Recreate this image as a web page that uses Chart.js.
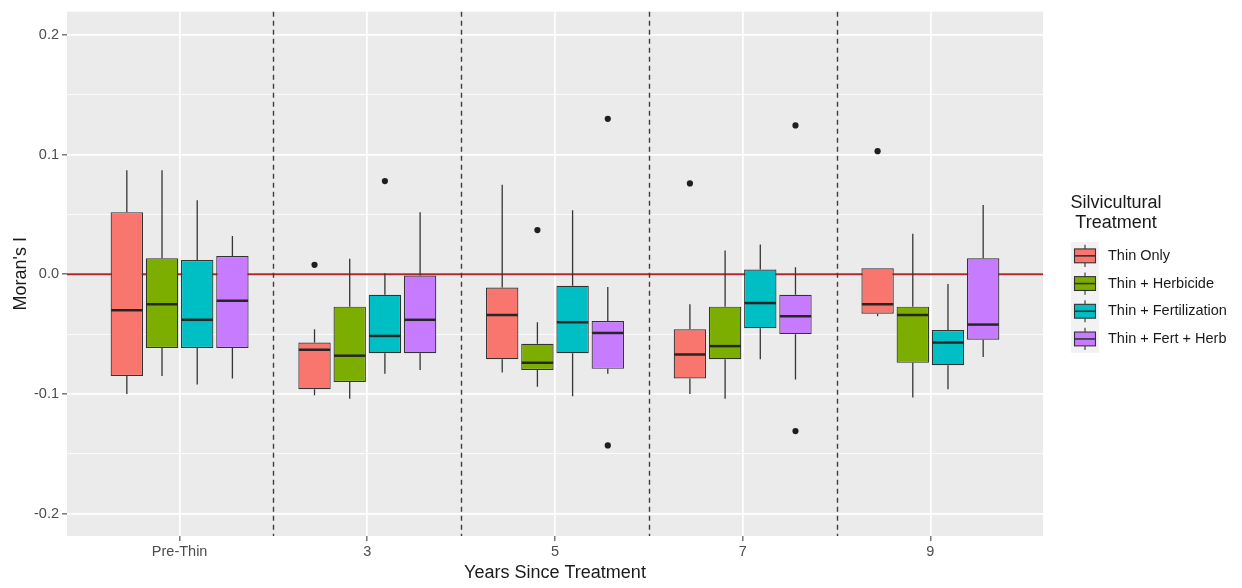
<!DOCTYPE html>
<html>
<head>
<meta charset="utf-8">
<script src="https://cdn.jsdelivr.net/npm/chart.js@4.4.1/dist/chart.umd.min.js"></script>
<style>
  html, body { margin: 0; padding: 0; background: #ffffff; }
  #wrap { width: 1242px; height: 588px; position: relative; }
</style>
</head>
<body>
<div id="wrap"><canvas id="c" width="1242" height="588"></canvas></div>
<script>
// ---------- data ----------
const categories = ['Pre-Thin', '3', '5', '7', '9'];
const treatments = ['Thin Only', 'Thin + Herbicide', 'Thin + Fertilization', 'Thin + Fert + Herb'];
const fillColors = ['#F8766D', '#7CAE00', '#00BFC4', '#C77CFF'];

// each entry: [lower whisker, Q1, median, Q3, upper whisker] per category
const thinOnly = [
  [-0.100, -0.085, -0.030,  0.052,  0.087],
  [-0.101, -0.096, -0.063, -0.057, -0.046],
  [-0.082, -0.071, -0.034, -0.011,  0.075],
  [-0.100, -0.087, -0.067, -0.046, -0.025],
  [-0.035, -0.033, -0.025,  0.005,  0.005]
];
const thinHerbicide = [
  [-0.085, -0.0615, -0.025,  0.0135,  0.087],
  [-0.104, -0.090,  -0.068, -0.027,   0.013],
  [-0.094, -0.080,  -0.074, -0.058,  -0.040],
  [-0.104, -0.071,  -0.060, -0.027,   0.020],
  [-0.103, -0.074,  -0.034, -0.027,   0.034]
];
const thinFertilization = [
  [-0.092, -0.0615, -0.038,   0.012,   0.062],
  [-0.083, -0.066,  -0.0515, -0.017,   0.001],
  [-0.102, -0.066,  -0.040,  -0.0096,  0.0535],
  [-0.071, -0.045,  -0.024,   0.004,   0.025],
  [-0.096, -0.076,  -0.057,  -0.0465, -0.008]
];
const thinFertHerb = [
  [-0.087, -0.0615, -0.022,  0.0154,  0.032],
  [-0.080, -0.066,  -0.038, -0.001,   0.052],
  [-0.083, -0.079,  -0.049, -0.039,  -0.0105],
  [-0.088, -0.050,  -0.035, -0.017,   0.006],
  [-0.069, -0.0546, -0.042,  0.0135,  0.058]
];

// outliers per category
const thinOnlyOutliers          = [[], [0.008], [], [0.076], [0.103]];
const thinHerbicideOutliers     = [[], [], [0.037], [], []];
const thinFertilizationOutliers = [[], [0.078], [], [], []];
const thinFertHerbOutliers      = [[], [], [0.130, -0.143], [0.1245, -0.131], []];

const yTicks      = [-0.2, -0.15, -0.1, -0.05, 0, 0.05, 0.1, 0.15, 0.2];
const yTickLabels = ['-0.2', '', '-0.1', '', '0.0', '', '0.1', '', '0.2'];
const separators  = [0.5, 1.5, 2.5, 3.5];
const referenceLine = 0;
const legendTitle = ['Silvicultural', 'Treatment'];

const seriesStats = [thinOnly, thinHerbicide, thinFertilization, thinFertHerb];
const seriesOutliers = [thinOnlyOutliers, thinHerbicideOutliers, thinFertilizationOutliers, thinFertHerbOutliers];

// ---------- chart ----------
const FONT = '"Liberation Sans", Arial, Helvetica, sans-serif';
Chart.defaults.font.family = FONT;

const boxExtras = {
  id: 'boxExtras',
  beforeDraw(chart) {
    const { ctx, chartArea: a } = chart;
    ctx.save();
    ctx.fillStyle = '#ebebeb';
    ctx.fillRect(a.left, a.top, a.right - a.left, a.bottom - a.top);
    ctx.restore();
  },
  beforeDatasetsDraw(chart) {
    const { ctx, chartArea: a, scales: { x, y } } = chart;
    ctx.save();
    // zero reference line
    const y0 = y.getPixelForValue(referenceLine);
    ctx.strokeStyle = '#b3262a';
    ctx.lineWidth = 2;
    ctx.beginPath(); ctx.moveTo(a.left, y0); ctx.lineTo(a.right, y0); ctx.stroke();
    // dashed separators
    ctx.strokeStyle = '#3d3d3d';
    ctx.lineWidth = 1.4;
    ctx.setLineDash([5, 4]);
    separators.forEach(v => {
      const px = Math.round(x.getPixelForValue(v)) + 0.5;
      ctx.beginPath(); ctx.moveTo(px, a.top); ctx.lineTo(px, a.bottom); ctx.stroke();
    });
    ctx.setLineDash([]);
    // whiskers
    ctx.strokeStyle = '#363636';
    ctx.lineWidth = 1.3;
    chart.data.datasets.forEach((ds, di) => {
      const meta = chart.getDatasetMeta(di);
      meta.data.forEach((bar, i) => {
        const st = seriesStats[di][i];
        const bx = bar.x;
        ctx.beginPath();
        ctx.moveTo(bx, y.getPixelForValue(st[3])); ctx.lineTo(bx, y.getPixelForValue(st[4]));
        ctx.moveTo(bx, y.getPixelForValue(st[1])); ctx.lineTo(bx, y.getPixelForValue(st[0]));
        ctx.stroke();
      });
    });
    ctx.restore();
  },
  afterDatasetsDraw(chart) {
    const { ctx, scales: { y } } = chart;
    ctx.save();
    chart.data.datasets.forEach((ds, di) => {
      const meta = chart.getDatasetMeta(di);
      meta.data.forEach((bar, i) => {
        const st = seriesStats[di][i];
        const half = bar.width / 2;
        const my = y.getPixelForValue(st[2]);
        ctx.strokeStyle = '#262626';
        ctx.lineWidth = 2.5;
        ctx.beginPath(); ctx.moveTo(bar.x - half + 0.5, my); ctx.lineTo(bar.x + half - 0.5, my); ctx.stroke();
        ctx.fillStyle = '#1f1f1f';
        seriesOutliers[di][i].forEach(v => {
          ctx.beginPath();
          ctx.arc(bar.x, y.getPixelForValue(v), 3.1, 0, Math.PI * 2);
          ctx.fill();
        });
      });
    });
    ctx.restore();
  },
  afterDraw(chart) {
    const ctx = chart.ctx;
    const keyX = 1071, keyW = 28, keyH = 27.7, keyTop = 242;
    ctx.save();
    ctx.fillStyle = '#1a1a1a';
    ctx.font = '18px ' + FONT;
    ctx.textAlign = 'center';
    ctx.textBaseline = 'middle';
    legendTitle.forEach((t, k) => ctx.fillText(t, 1116, 203 + k * 20));
    ctx.fillStyle = '#f2f2f2';
    ctx.fillRect(keyX, keyTop, keyW, keyH * treatments.length);
    treatments.forEach((name, s) => {
      const top = keyTop + s * keyH;
      const cy = top + keyH / 2;
      const cx = keyX + keyW / 2;
      const bw = keyW * 0.75, bh = keyH * 0.5;
      ctx.strokeStyle = '#333333';
      ctx.lineWidth = 1.1;
      ctx.beginPath();
      ctx.moveTo(cx, top + keyH * 0.1); ctx.lineTo(cx, top + keyH * 0.25);
      ctx.moveTo(cx, top + keyH * 0.75); ctx.lineTo(cx, top + keyH * 0.9);
      ctx.stroke();
      ctx.fillStyle = fillColors[s];
      ctx.fillRect(cx - bw / 2, cy - bh / 2, bw, bh);
      ctx.strokeRect(cx - bw / 2, cy - bh / 2, bw, bh);
      ctx.lineWidth = 1.6;
      ctx.beginPath(); ctx.moveTo(cx - bw / 2, cy); ctx.lineTo(cx + bw / 2, cy); ctx.stroke();
      ctx.fillStyle = '#1a1a1a';
      ctx.font = '14.5px ' + FONT;
      ctx.textAlign = 'left';
      ctx.fillText(name, 1108, cy);
    });
    ctx.restore();
  }
};

new Chart(document.getElementById('c'), {
  type: 'bar',
  data: {
    datasets: treatments.map((name, s) => ({
      label: name,
      data: seriesStats[s].map((st, i) => ({ x: i, y: [st[1], st[3]] })),
      backgroundColor: fillColors[s],
      borderColor: '#333333',
      borderWidth: 1.2,
      borderSkipped: false,
      categoryPercentage: 0.75,
      barPercentage: 0.92
    }))
  },
  options: {
    responsive: false,
    animation: false,
    events: [],
    layout: { padding: { left: 0, top: 10, right: 199, bottom: 0 } },
    plugins: { legend: { display: false }, tooltip: { enabled: false } },
    scales: {
      x: {
        type: 'linear',
        min: -0.6,
        max: 4.6,
        bounds: 'data',
        offset: false,
        afterBuildTicks: (scale) => { scale.ticks = categories.map((c, i) => ({ value: i })); },
        afterFit: (scale) => { scale.height = 52; },
        grid: {
          offset: false,
          color: '#ffffff',
          lineWidth: 1.7,
          drawTicks: true,
          tickLength: 5,
          tickColor: '#333333',
          tickWidth: 1
        },
        border: { display: false },
        ticks: {
          autoSkip: false,
          maxRotation: 0,
          padding: 2,
          color: '#4d4d4d',
          font: { size: 14.5 },
          callback: (v, i) => categories[i]
        },
        title: {
          display: true,
          text: 'Years Since Treatment',
          color: '#1a1a1a',
          font: { size: 18 },
          padding: { top: 0, bottom: 4 }
        }
      },
      y: {
        type: 'linear',
        min: -0.21875,
        max: 0.21958,
        bounds: 'data',
        afterBuildTicks: (scale) => { scale.ticks = yTicks.map(v => ({ value: v })); },
        afterFit: (scale) => { scale.width = 67; },
        grid: {
          color: '#ffffff',
          lineWidth: (ctx) => (yTickLabels[ctx.index] ? 1.7 : 0.8),
          drawTicks: true,
          tickLength: 5,
          tickColor: (ctx) => (yTickLabels[ctx.index] ? '#333333' : 'rgba(0,0,0,0)'),
          tickWidth: 1
        },
        border: { display: false },
        ticks: {
          autoSkip: false,
          padding: 3,
          color: '#4d4d4d',
          font: { size: 14.5 },
          callback: (v, i) => yTickLabels[i]
        },
        title: {
          display: true,
          text: "Moran's I",
          color: '#1a1a1a',
          font: { size: 18 },
          padding: { top: 10, bottom: 0 }
        }
      }
    }
  },
  plugins: [boxExtras]
});
</script>
</body>
</html>
